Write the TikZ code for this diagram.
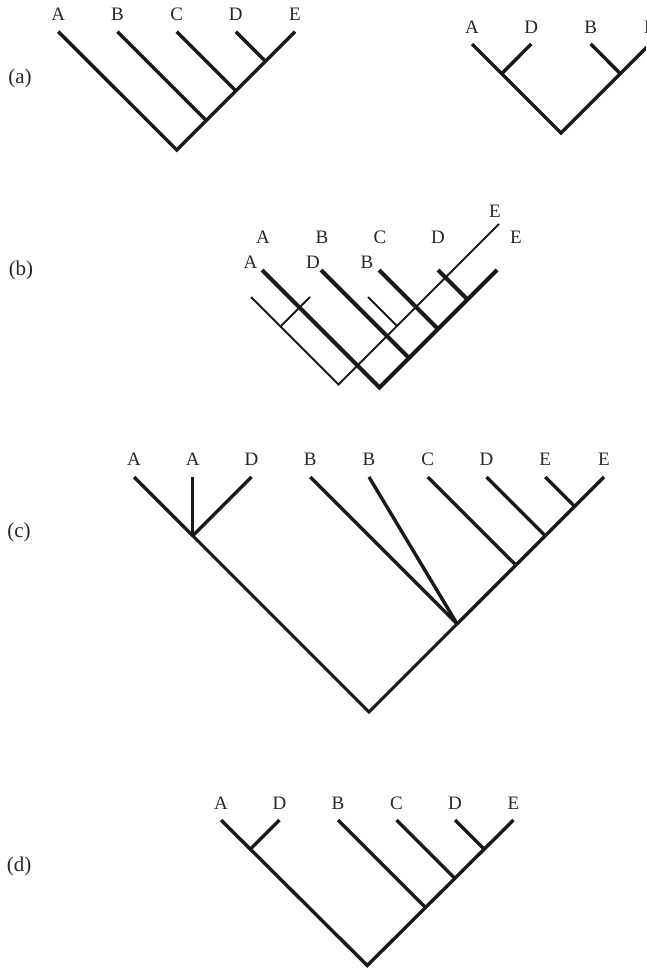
\documentclass[tikz,border=0pt]{standalone}
\usepackage{fontspec}
\setmainfont{Liberation Serif}
\begin{document}
\begin{tikzpicture}[x=1pt,y=-1pt,
  taxon/.style={font=\fontsize{19}{19}\selectfont,inner sep=0pt,anchor=center,text=black!85},
  panel/.style={font=\fontsize{21}{21}\selectfont,inner sep=0pt,anchor=center,text=black!85},
  branch/.style={line width=3.4pt,line cap=butt,line join=miter,draw=black!90},
  heavy/.style={line width=4pt,line cap=butt,line join=miter,draw=black!90},
  thin/.style={line width=1.9pt,line cap=butt,line join=miter,draw=black!90}]
\useasboundingbox (0,0) rectangle (646,968);
\clip (0,0) rectangle (646,968);

% ---------------- (a) ----------------
\node[panel] (pa) at (20,78) {(a)};
% left tree  (A,(B,(C,(D,E))))
\foreach \n/\x in {A/58.3,B/117.5,C/176.7,D/235.8,E/295}{
  \coordinate (a1\n) at (\x,31.7);
  \node[taxon] (la1\n) at (\x,14.5) {\n};
}
\coordinate (a1de) at (265.4,61.3);
\coordinate (a1cde) at (235.8,90.9);
\coordinate (a1bcde) at (206.2,120.5);
\coordinate (a1r) at (176.7,150);
\draw[branch] (a1A) -- (a1r) -- (a1E);
\draw[branch] (a1B) -- (a1bcde);
\draw[branch] (a1C) -- (a1cde);
\draw[branch] (a1D) -- (a1de);
% right tree  ((A,D),(B,E)), running off the right edge
\foreach \n/\l/\x in {A/A/472,D/D/531.3,B/B/590.7,E/E/650}{
  \coordinate (a2\n) at (\x,44);
  \node[taxon] (la2\n) at (\x,27) {\l};
}
\coordinate (a2ad) at (501.7,73.7);
\coordinate (a2be) at (620.3,73.7);
\coordinate (a2r) at (561,133);
\draw[branch] (a2A) -- (a2r) -- (a2E);
\draw[branch] (a2D) -- (a2ad);
\draw[branch] (a2B) -- (a2be);

% ---------------- (b) ----------------
\node[panel] (pb) at (21,270) {(b)};
% thin tree ((A,D),(B,E))
\coordinate (btA) at (251,297);
\coordinate (btD) at (310,297);
\coordinate (btB) at (368,297);
\coordinate (btE) at (499,224);
\coordinate (btad) at (280.5,326.5);
\coordinate (btbe) at (397,326);
\coordinate (btr) at (338.5,384.5);
\draw[thin] (btA) -- (btr) -- (btE);
\draw[thin] (btD) -- (btad);
\draw[thin] (btB) -- (btbe);
% heavy tree (A,(B,(C,(D,E))))
\foreach \n/\x in {A/262,B/321,C/379,D/438,E/497}{
  \coordinate (bh\n) at (\x,270);
}
\coordinate (bhde) at (467.5,299.5);
\coordinate (bhcde) at (438,329);
\coordinate (bhbcde) at (409,358);
\coordinate (bhr) at (379.5,387.5);
\draw[heavy] (bhA) -- (bhr) -- (bhE);
\draw[heavy] (bhB) -- (bhbcde);
\draw[heavy] (bhC) -- (bhcde);
\draw[heavy] (bhD) -- (bhde);
% labels
\node[taxon] (lbhA) at (263,237) {A};
\node[taxon] (lbhB) at (322,237) {B};
\node[taxon] (lbhC) at (380,237) {C};
\node[taxon] (lbhD) at (438,237) {D};
\node[taxon] (lbhE) at (516,237) {E};
\node[taxon] (lbtE) at (495,211) {E};
\node[taxon] (lbtA) at (250.5,262.5) {A};
\node[taxon] (lbtD) at (313,262.5) {D};
\node[taxon] (lbtB) at (367,262.5) {B};

% ---------------- (c) ----------------
\node[panel] (pc) at (19,532) {(c)};
\foreach \n/\l/\x in {A1/A/134,A2/A/192.75,D1/D/251.5,B1/B/310.25,B2/B/369,C/C/427.75,D2/D/486.5,E1/E/545.25,E2/E/604}{
  \coordinate (c\n) at (\x,477);
  \node[taxon] (lc\n) at (\x,459) {\l};
}
\coordinate (cad) at (192.75,535.75);
\coordinate (cb) at (457.1,623.9);
\coordinate (ccde) at (515.9,565.1);
\coordinate (cde) at (545.25,535.75);
\coordinate (cee) at (574.6,506.4);
\coordinate (cr) at (369,712);
\draw[branch,line width=3.1pt] (cad) -- (cr) -- (cb);
\draw[branch] (cA1) -- (cad);
\draw[branch] (cA2) -- (cad);
\draw[branch] (cD1) -- (cad);
\draw[branch] (cb) -- (cE2);
\draw[branch] (cB1) -- (cb);
\draw[branch] (cB2) -- (cb);
\draw[branch] (cC) -- (ccde);
\draw[branch] (cD2) -- (cde);
\draw[branch] (cE1) -- (cee);

% ---------------- (d) ----------------
\node[panel] (pd) at (19,866) {(d)};
\foreach \n/\l/\x in {A/A/221,D1/D/279.5,B/B/338,C/C/396.5,D2/D/455,E/E/513.5}{
  \coordinate (d\n) at (\x,820);
  \node[taxon] (ld\n) at (\x,803) {\l};
}
\coordinate (dad) at (250.25,849.25);
\coordinate (db) at (425.75,907.75);
\coordinate (dc) at (455,878.5);
\coordinate (dde) at (484.25,849.25);
\coordinate (dr) at (367.25,965.5);
\draw[branch] (dA) -- (dr) -- (dE);
\draw[branch] (dD1) -- (dad);
\draw[branch] (dB) -- (db);
\draw[branch] (dC) -- (dc);
\draw[branch] (dD2) -- (dde);
\end{tikzpicture}
\end{document}
